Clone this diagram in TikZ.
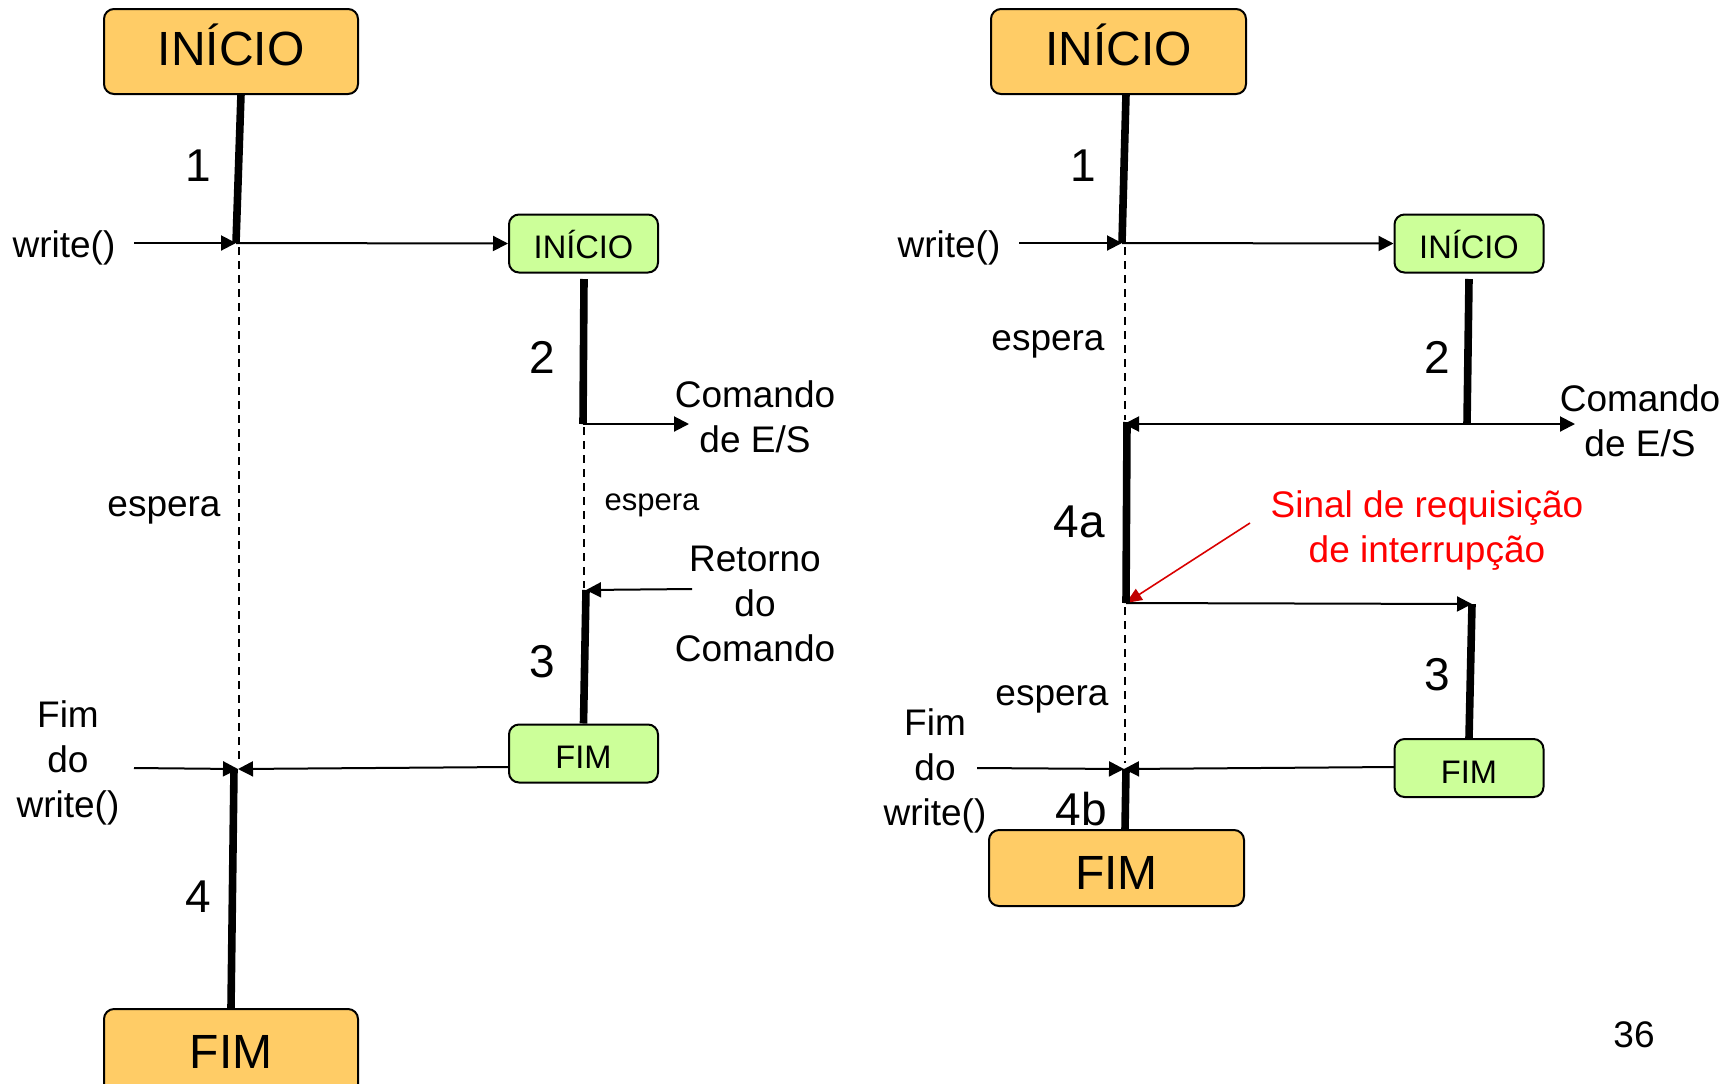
\documentclass[tikz,border=0pt]{standalone}
\usepackage{fontspec}
\setmainfont{Liberation Sans}
\usetikzlibrary{arrows.meta}
\definecolor{boxorange}{RGB}{255,204,102}
\definecolor{boxgreen}{RGB}{204,255,153}
\definecolor{tipred}{RGB}{192,0,0}
\begin{document}
\begin{tikzpicture}[x=0.5pt, y=-0.5pt,
  bigbox/.style={draw, line width=1pt, rounded corners=5pt, fill=boxorange,
    minimum width=127pt, minimum height=42.5pt, text height=13.5pt, text depth=0pt,
    font=\fontsize{24}{28}\selectfont},
  smallbox/.style={draw, line width=1pt, rounded corners=5pt, fill=boxgreen,
    minimum width=74.5pt, minimum height=29pt, text height=15pt, text depth=0pt,
    font=\fontsize{16.3}{19}\selectfont},
  thread/.style={line width=3.8pt},
  msg/.style={line width=1pt, -{Triangle[length=7.5pt,width=7.5pt]}},
  wait/.style={line width=0.9pt, dash pattern=on 4pt off 3pt},
  lbl/.style={font=\fontsize{18.5}{22.5}\selectfont, align=center},
  smalllbl/.style={font=\fontsize{15.5}{18}\selectfont},
  numlbl/.style={font=\fontsize{23}{27}\selectfont}]
\useasboundingbox (0,0) rectangle (1735,1083);
\clip (0,0) rectangle (1735,1083);
% Boxes
\node[bigbox] (ini1) at (231,51.5) {INÍCIO};
\node[bigbox, text height=16.5pt] (fim1) at (231,1051.5) {FIM};
\node[smallbox] (gini1) at (583.5,243.5) {INÍCIO};
\node[smallbox] (gfim1) at (583.5,753.5) {FIM};
\node[bigbox, minimum width=127.5pt] (ini2) at (1118.5,51.5) {INÍCIO};
\node[bigbox, minimum width=127.5pt, minimum height=38pt, text height=21pt] (fim2) at (1116.5,868) {FIM};
\node[smallbox] (gini2) at (1469,243.5) {INÍCIO};
\node[smallbox] (gfim2) at (1469,768) {FIM};
% Points on the left time lines
\coordinate (a1) at (241,94);
\coordinate (w1) at (236,243);
\coordinate (win1) at (134,243);
\coordinate (b2) at (584,279);
\coordinate (c2) at (583,424);
\coordinate (cmd1) at (689,424);
\coordinate (r3) at (586,590);
\coordinate (ret1) at (692,589);
\coordinate (fe1) at (509,767);
\coordinate (j1) at (238,769);
\coordinate (fin1) at (134,768);
% Points on the right time lines
\coordinate (a2) at (1126,94);
\coordinate (w2) at (1122,243);
\coordinate (win2) at (1019,243);
\coordinate (b5) at (1469,279);
\coordinate (c5) at (1467,424);
\coordinate (cmd2) at (1575,424);
\coordinate (k2) at (1124,424);
\coordinate (k3) at (1126,603);
\coordinate (s3) at (1472,604);
\coordinate (fe2) at (1394,767);
\coordinate (j2) at (1124,769);
\coordinate (fin2) at (977,768);
\coordinate (sig) at (1250,523);
% Messages
\draw[msg] (win1) -- (w1);
\draw[msg] (w1) -- (gini1.west);
\draw[msg] (c2) -- (cmd1);
\draw[msg] (ret1) -- (r3);
\draw[msg] (fe1) -- (j1);
\draw[msg] (fin1) -- (j1);
\draw[msg] (win2) -- (w2);
\draw[msg] (w2) -- (gini2.west);
\draw[msg] (c5) -- (cmd2);
\draw[msg] (c5) -- (k2);
\draw[msg] (k3) -- (s3);
\draw[msg] (fe2) -- (j2);
\draw[msg] (fin2) -- (j2);
\draw[line width=0.8pt, red!85!black, -{Triangle[length=8pt,width=6.5pt,color=tipred]}] (sig) -- (k3);
% Waiting
\draw[wait] (239,247) -- (239,762);
\draw[wait] (584,427) -- (584,588);
\draw[wait] (1125,247) -- (1125,420);
\draw[wait] (1125,607) -- (1125,763);
% Processing
\draw[thread] (a1) -- (w1);
\draw[thread] (b2) -- (c2);
\draw[thread] (r3) -- (gfim1.north);
\draw[thread] (234,769) -- (fim1.north);
\draw[thread] (a2) -- (w2);
\draw[thread] (b5) -- (c5);
\draw[thread] (1127,422) -- (k3);
\draw[thread] (s3) -- (gfim2.north);
\draw[thread] (1126,769) -- (1125,830);
% Labels
\node[numlbl] (n1) at (198,166) {1};
\node[numlbl] (n2) at (542,357) {2};
\node[numlbl] (n3) at (542,662) {3};
\node[numlbl] (n4) at (198,897) {4};
\node[lbl] (wr1) at (64,248) {write()};
\node[lbl] (cmdtxt1) at (755,417) {Comando\\de E/S};
\node[lbl] (esp1) at (164,510) {espera};
\node[smalllbl] (esp2) at (652,505) {espera};
\node[lbl] (rettxt) at (755,604) {Retorno\\do\\Comando};
\node[lbl] (fimw1) at (68,763) {Fim\\do\\write()};
\node[numlbl] (m1) at (1083,166) {1};
\node[numlbl] (m2) at (1437,357) {2};
\node[numlbl] (m4a) at (1079,522) {4a};
\node[numlbl] (m3) at (1437,675) {3};
\node[numlbl] (m4b) at (1081,809) {4b};
\node[lbl] (wr2) at (949,248) {write()};
\node[lbl] (esp3) at (1048,344) {espera};
\node[lbl] (esp4) at (1052,699) {espera};
\node[lbl] (cmdtxt2) at (1640,421) {Comando\\de E/S};
\node[lbl] (fimw2) at (935,771) {Fim\\do\\write()};
\node[lbl, text=red] (sinal) at (1427,531) {Sinal de requisição\\de interrupção};
\node[lbl] (pg) at (1634,1035) {36};
\end{tikzpicture}
\end{document}
